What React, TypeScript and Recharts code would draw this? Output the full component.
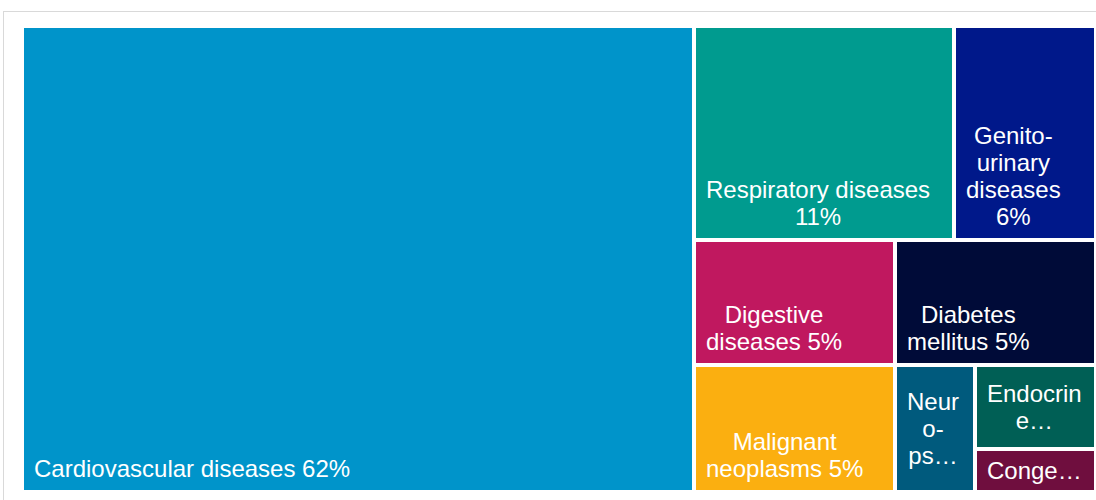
import { Treemap } from "recharts";

// Causes, in the order the treemap lays them out
const causes = [
  "Cardiovascular diseases",
  "Respiratory diseases",
  "Genito-urinary diseases",
  "Digestive diseases",
  "Malignant neoplasms",
  "Diabetes mellitus",
  "Neuro-psychiatric conditions",
  "Endocrine disorders",
  "Congenital anomalies",
];

// Share of total (%)
const shares = [62.57, 11.12, 6.07, 5.03, 5.09, 5.03, 2.03, 2.03, 1.04];

// Label text as it is wrapped/truncated in the cells
const labelLines = [
  ["Cardiovascular diseases 62%"],
  ["Respiratory diseases", "11%"],
  ["Genito-", "urinary", "diseases", "6%"],
  ["Digestive", "diseases 5%"],
  ["Malignant", "neoplasms 5%"],
  ["Diabetes", "mellitus 5%"],
  ["Neur", "o-", "ps…"],
  ["Endocrin", "e…"],
  ["Conge…"],
];

const COLORS = [
  "#0094CA", // cardio
  "#009B8F", // respiratory
  "#00188A", // genito-urinary
  "#C0185F", // digestive
  "#FBAF10", // malignant
  "#000B38", // diabetes
  "#005A7D", // neuro
  "#005F55", // endocrine
  "#6F0E3E", // congenital
];

const FONT_SIZE = 24;
const LINE_H = 27;
const FONT = `${FONT_SIZE}px 'Liberation Sans', Arial, sans-serif`;

const treeData = causes.map((name, i) => ({ name, value: shares[i] }));

let ctx: CanvasRenderingContext2D | null = null;
const measure = (s: string) => {
  if (!ctx) ctx = document.createElement("canvas").getContext("2d");
  if (!ctx) return s.length * FONT_SIZE * 0.5;
  ctx.font = FONT;
  return ctx.measureText(s).width;
};

// custom cell: white gap + Excel-like label box
const Cell = (props: any) => {
  const { x, y, width, height, depth, index } = props;
  if (depth !== 1) return null;
  const lines = labelLines[index] || [];
  const boxW = Math.max(...lines.map(measure));
  const cx = x + 12 + boxW / 2;
  const truncated = lines.length && lines[lines.length - 1].endsWith("…");
  // truncated labels sit in the middle, the others at the bottom
  const firstY = truncated
    ? y + height / 2 - ((lines.length - 1) * LINE_H) / 2
    : y + height - 24 - (lines.length - 1) * LINE_H;

  return (
    <g>
      <rect
        x={x}
        y={y}
        width={width}
        height={height}
        fill={COLORS[index]}
        stroke="#fff"
        strokeWidth={4}
      />
      {lines.map((l, i) => (
        <text
          key={i}
          x={cx}
          y={firstY + i * LINE_H}
          textAnchor="middle"
          dominantBaseline="central"
          fill="#fff"
          stroke="none"
          style={{ font: FONT }}
        >
          {l}
        </text>
      ))}
    </g>
  );
};

export default function App() {
  return (
    <div
      style={{
        position: "fixed",
        left: 0,
        top: 0,
        width: 1096,
        height: 500,
        overflow: "hidden",
        background: "#fff",
      }}
    >
      <div
        style={{
          position: "absolute",
          left: 3,
          top: 11,
          width: 1300,
          height: 700,
          border: "1px solid #d9d9d9",
        }}
      />
      <div style={{ position: "absolute", left: 22, top: 26 }}>
        <Treemap
          width={1074}
          height={466}
          data={treeData}
          dataKey="value"
          nameKey="name"
          aspectRatio={1}
          stroke="#fff"
          isAnimationActive={false}
          content={<Cell />}
        />
      </div>
    </div>
  );
}
